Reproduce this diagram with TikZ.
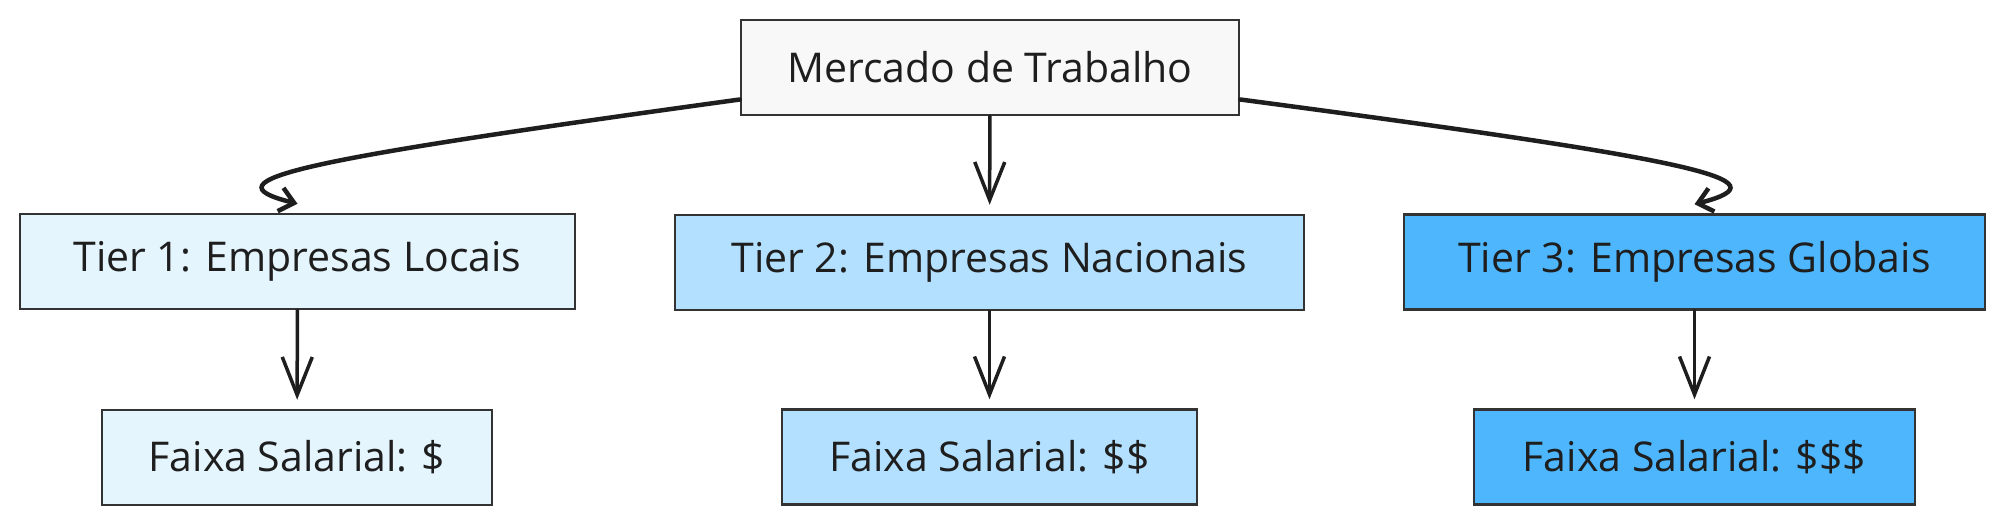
\documentclass[tikz,border=0pt]{standalone}
\usepackage{fontspec}
\setmainfont{Open Sans}
\usetikzlibrary{arrows.meta}
\definecolor{ink}{HTML}{1E1E1E}
\definecolor{edge}{HTML}{333333}
\definecolor{topfill}{HTML}{F8F8F8}
\definecolor{tierA}{HTML}{E4F5FE}
\definecolor{tierB}{HTML}{B3E0FE}
\definecolor{tierC}{HTML}{4DB6FC}
\tikzset{
  box/.style={draw=edge, line width=2.5pt, minimum height=95pt, inner sep=0pt,
    font=\fontsize{41}{48}\selectfont, text=ink},
  link/.style={draw=ink, line width=3.5pt, line cap=round,
    -{Straight Barb[length=38pt,width=30pt,line width=3.5pt]}, shorten >=9pt},
  curl/.style={draw=ink, line width=4.5pt, line cap=round,
    -{Straight Barb[length=14pt,width=24pt,line width=4.5pt]}}
}
\begin{document}
\begin{tikzpicture}[x=1pt,y=-1pt]
\useasboundingbox (0,0) rectangle (2005,524);
\node[box, fill=topfill, minimum width=498pt] (top) at (990,67.5) {Mercado de Trabalho};
\node[box, fill=tierA, minimum width=555pt] (t1) at (297.5,261.5) {Tier 1: Empresas Locais};
\node[box, fill=tierB, minimum width=629pt] (t2) at (989.5,262.5) {Tier 2: Empresas Nacionais};
\node[box, fill=tierC, minimum width=581pt] (t3) at (1694.5,262) {Tier 3: Empresas Globais};
\node[box, fill=tierA, minimum width=390pt] (f1) at (297,457.5) {Faixa Salarial: \$};
\node[box, fill=tierB, minimum width=415pt] (f2) at (989.5,457) {Faixa Salarial: \$\$};
\node[box, fill=tierC, minimum width=441pt] (f3) at (1694.5,457) {Faixa Salarial: \$\$\$};
\coordinate (sl) at ([yshift=-32pt]top.west);
\coordinate (sr) at ([yshift=-32pt]top.east);
\coordinate (el) at ([yshift=9pt]t1.north);
\coordinate (er) at ([yshift=9pt]t3.north);
\draw[curl] (sl) .. controls (300,160) and (202,180) .. (el);
\draw[curl] (sr) .. controls (1697,160) and (1789,180) .. (er);
\draw[link] (top) -- (t2);
\draw[link] (t1) -- (f1);
\draw[link] (t2) -- (f2);
\draw[link] (t3) -- (f3);
\end{tikzpicture}
\end{document}
